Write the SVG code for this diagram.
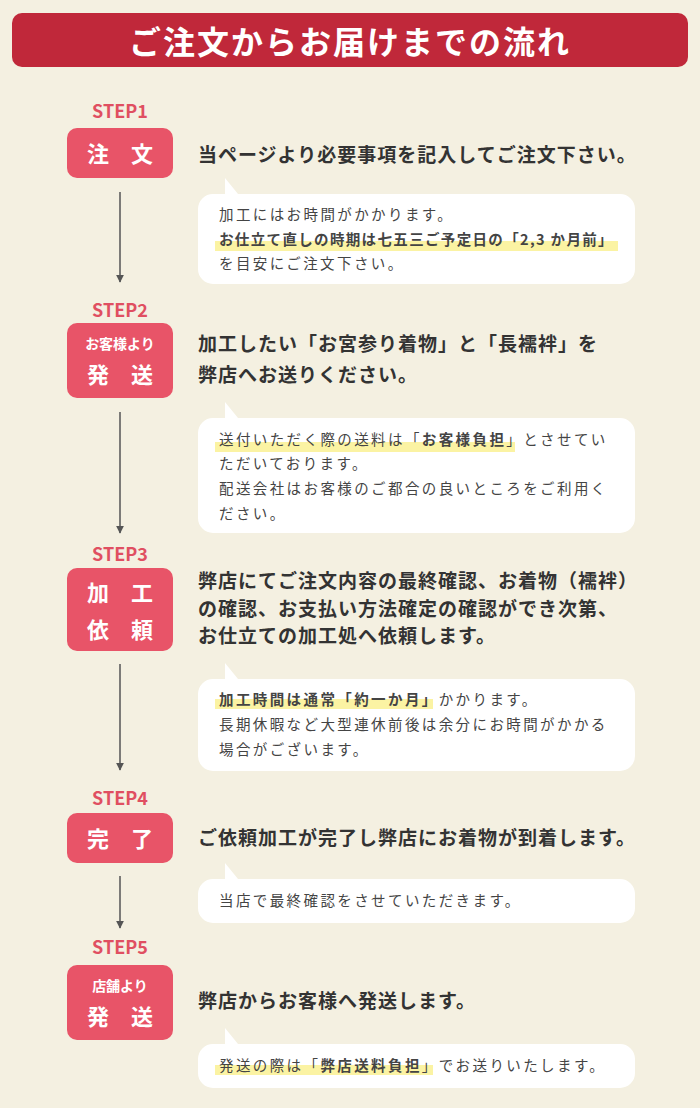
<svg xmlns="http://www.w3.org/2000/svg" width="700" height="1108" viewBox="0 0 700 1108">
<style>
text{font-family:"Noto Sans CJK JP","Noto Sans",sans-serif;fill:#333}
.st{font-size:18px;font-weight:700;fill:#e04f61;text-anchor:middle}
.box{fill:#e85468}
.bt{fill:#fff;font-weight:700;text-anchor:middle}
.main{font-size:19px;font-weight:700;letter-spacing:1px}
.sub{font-size:14.5px;fill:#444;letter-spacing:2.4px}
.b{font-weight:700}
.hl{fill:#fbf3a3}
.bub{fill:#fff}
.arr{stroke:#555;stroke-width:1.5;fill:none}
</style>
<defs><marker id="ah" viewBox="0 0 10 10" refX="9" refY="5" markerWidth="8" markerHeight="8" orient="auto" markerUnits="userSpaceOnUse"><path d="M0,0L10,5L0,10z" fill="#555"/></marker></defs>
<rect width="700" height="1108" fill="#f4f0e1"/>
<g id="header"><rect x="12" y="13" width="676" height="54" rx="10" fill="#c0283a"/>
<text x="350" y="54" font-size="32" font-weight="700" text-anchor="middle" letter-spacing="2" style="fill:#fff">ご注文からお届けまでの流れ</text></g>
<g id="connectors">
<line class="arr" x1="120" y1="192" x2="120" y2="282" marker-end="url(#ah)"/>
<line class="arr" x1="120" y1="412" x2="120" y2="533" marker-end="url(#ah)"/>
<line class="arr" x1="120" y1="664" x2="120" y2="770" marker-end="url(#ah)"/>
<line class="arr" x1="120" y1="876" x2="120" y2="928" marker-end="url(#ah)"/>
</g>
<g id="step1">
<text class="st" x="120" y="118">STEP1</text>
<rect class="box" x="67" y="128" width="106" height="50" rx="10"/>
<text class="bt" x="120" y="162" font-size="22">注　文</text>
<text class="main" x="198" y="162">当ページより必要事項を記入してご注文下さい。</text>
<path class="bub" d="M225,178L238,194H620a15,15 0 0 1 15,15V269a15,15 0 0 1-15,15H213a15,15 0 0 1-15-15V209a15,15 0 0 1 15-15H225z"/>
<rect class="hl" x="215" y="241" width="403" height="10"/>
<text class="sub" x="219" y="220">加工にはお時間がかかります。</text>
<text class="sub b" x="219" y="245" textLength="396" lengthAdjust="spacing">お仕立て直しの時期は七五三ご予定日の「2,3 か月前」</text>
<text class="sub" x="219" y="269">を目安にご注文下さい。</text>
</g>
<g id="step2">
<text class="st" x="120" y="317">STEP2</text>
<rect class="box" x="67" y="323" width="106" height="75" rx="10"/>
<text class="bt" x="120" y="349" font-size="14">お客様より</text>
<text class="bt" x="120" y="383" font-size="22">発　送</text>
<text class="main" x="198" y="351">加工したい「お宮参り着物」と「長襦袢」を</text>
<text class="main" x="198" y="382">弊店へお送りください。</text>
<path class="bub" d="M225,402L238,418H620a15,15 0 0 1 15,15V518a15,15 0 0 1-15,15H213a15,15 0 0 1-15-15V433a15,15 0 0 1 15-15H225z"/>
<rect class="hl" x="215" y="442" width="300" height="10"/>
<text class="sub" x="219" y="445">送付いただく際の送料は「<tspan class="b">お客様負担</tspan>」とさせてい</text>
<text class="sub" x="219" y="469">ただいております。</text>
<text class="sub" x="219" y="494">配送会社はお客様のご都合の良いところをご利用く</text>
<text class="sub" x="219" y="519">ださい。</text>
</g>
<g id="step3">
<text class="st" x="120" y="561">STEP3</text>
<rect class="box" x="67" y="568" width="106" height="83" rx="10"/>
<text class="bt" x="120" y="601" font-size="22">加　工</text>
<text class="bt" x="120" y="638" font-size="22">依　頼</text>
<text class="main" x="198" y="588">弊店にてご注文内容の最終確認、お着物（襦袢）</text>
<text class="main" x="198" y="616">の確認、お支払い方法確定の確認ができ次第、</text>
<text class="main" x="198" y="643">お仕立ての加工処へ依頼します。</text>
<path class="bub" d="M225,663L238,679H620a15,15 0 0 1 15,15V756a15,15 0 0 1-15,15H213a15,15 0 0 1-15-15V694a15,15 0 0 1 15-15H225z"/>
<rect class="hl" x="215" y="699" width="218" height="10"/>
<text class="sub" x="219" y="705"><tspan class="b">加工時間は通常「約一か月」</tspan>かかります。</text>
<text class="sub" x="219" y="730">長期休暇など大型連休前後は余分にお時間がかかる</text>
<text class="sub" x="219" y="755">場合がございます。</text>
</g>
<g id="step4">
<text class="st" x="120" y="805">STEP4</text>
<rect class="box" x="67" y="813" width="106" height="50" rx="10"/>
<text class="bt" x="120" y="847" font-size="22">完　了</text>
<text class="main" x="198" y="845">ご依頼加工が完了し弊店にお着物が到着します。</text>
<path class="bub" d="M225,863L238,879H620a15,15 0 0 1 15,15V908a15,15 0 0 1-15,15H213a15,15 0 0 1-15-15V894a15,15 0 0 1 15-15H225z"/>
<text class="sub" x="219" y="906">当店で最終確認をさせていただきます。</text>
</g>
<g id="step5">
<text class="st" x="120" y="954">STEP5</text>
<rect class="box" x="67" y="965" width="106" height="75" rx="10"/>
<text class="bt" x="120" y="991" font-size="14">店舗より</text>
<text class="bt" x="120" y="1025" font-size="22">発　送</text>
<text class="main" x="198" y="1008">弊店からお客様へ発送します。</text>
<path class="bub" d="M225,1028L238,1044H620a15,15 0 0 1 15,15V1073a15,15 0 0 1-15,15H213a15,15 0 0 1-15-15V1059a15,15 0 0 1 15-15H225z"/>
<rect class="hl" x="215" y="1065" width="218" height="10"/>
<text class="sub" x="219" y="1071">発送の際は「<tspan class="b">弊店送料負担</tspan>」でお送りいたします。</text>
</g>
</svg>
